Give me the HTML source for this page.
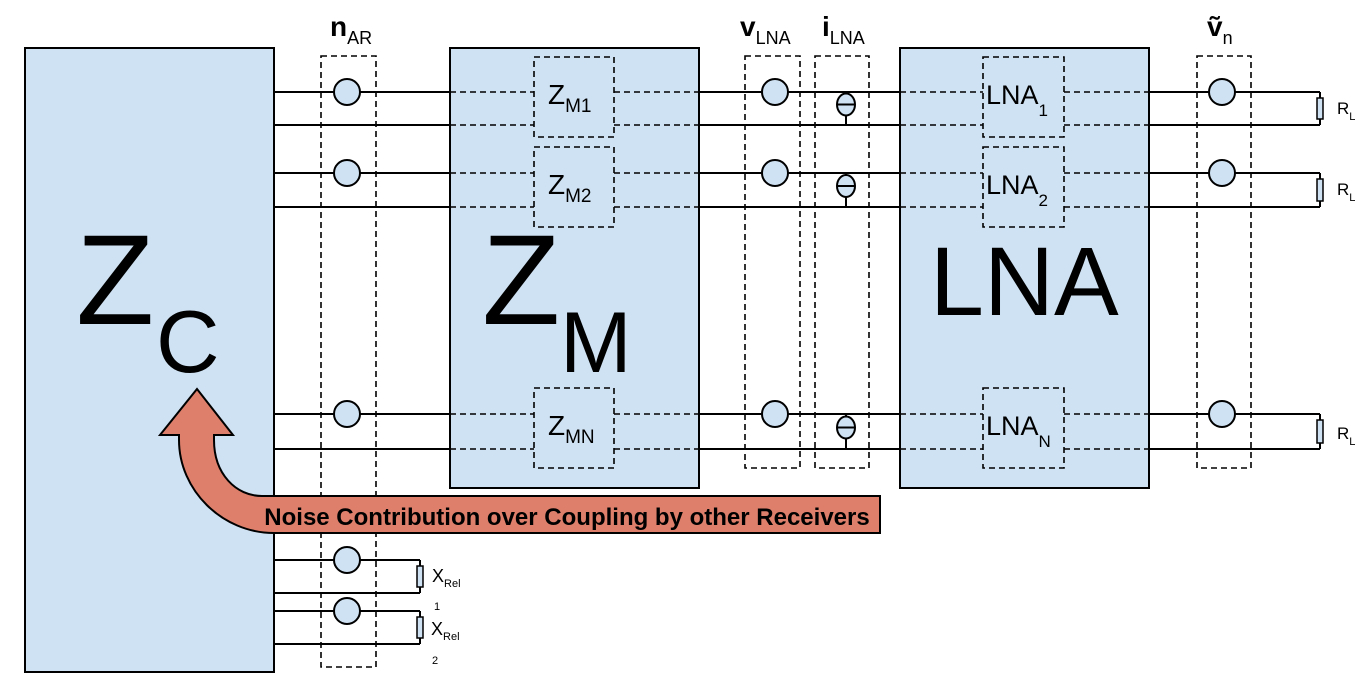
<!DOCTYPE html>
<html><head><meta charset="utf-8"><style>
html,body{margin:0;padding:0;background:#fff;}
svg{display:block;font-family:"Liberation Sans",Arial,sans-serif;}
</style></head><body>
<svg width="1365" height="684" viewBox="0 0 1365 684" xmlns="http://www.w3.org/2000/svg">
<rect x="25" y="48" width="249" height="624" fill="#cfe2f3" stroke="#000" stroke-width="2"/>
<rect x="450" y="48" width="249" height="440" fill="#cfe2f3" stroke="#000" stroke-width="2"/>
<rect x="900" y="48" width="249" height="440" fill="#cfe2f3" stroke="#000" stroke-width="2"/>
<g id="wires" stroke="#000" stroke-width="2" fill="none"></g>
<g stroke="#000" stroke-width="1.6" stroke-dasharray="6,4" fill="none">
  <rect x="321" y="56" width="55" height="611"/>
  <rect x="745" y="56" width="55" height="412"/>
  <rect x="815" y="56" width="54" height="412"/>
  <rect x="1197" y="56" width="54" height="412"/>
  <rect x="534" y="57" width="80" height="80"/>
  <rect x="534" y="147" width="80" height="80"/>
  <rect x="534" y="388" width="80" height="80"/>
  <rect x="983" y="57" width="81" height="80"/>
  <rect x="983" y="147" width="81" height="80"/>
  <rect x="983" y="388" width="81" height="80"/>
</g>
<g id="comps" stroke="#000" stroke-width="2" fill="#cfe2f3"></g>

<g fill="#000">
  <text x="76" y="324" font-size="128">Z</text>
  <text x="156" y="372" font-size="88">C</text>
  <text x="482" y="324" font-size="128">Z</text>
  <text x="560" y="372" font-size="86">M</text>
  <text x="930" y="315" font-size="97">LNA</text>
  <text x="548" y="104" font-size="28">Z<tspan font-size="19" dy="8">M1</tspan></text>
  <text x="548" y="194" font-size="28">Z<tspan font-size="19" dy="8">M2</tspan></text>
  <text x="548" y="435" font-size="28">Z<tspan font-size="19" dy="8">MN</tspan></text>
  <text x="986" y="104" font-size="27">LNA<tspan font-size="17" dy="12">1</tspan></text>
  <text x="986" y="194" font-size="27">LNA<tspan font-size="17" dy="12">2</tspan></text>
  <text x="986" y="435" font-size="27">LNA<tspan font-size="17" dy="12">N</tspan></text>
  <text x="330" y="36" font-size="28" font-weight="bold">n<tspan font-size="18" font-weight="normal" dy="8">AR</tspan></text>
  <text x="740" y="36" font-size="28" font-weight="bold">v<tspan font-size="18" font-weight="normal" dy="8">LNA</tspan></text>
  <text x="822" y="36" font-size="28" font-weight="bold">i<tspan font-size="18" font-weight="normal" dy="8">LNA</tspan></text>
  <text x="1207" y="36" font-size="28" font-weight="bold">ṽ<tspan font-size="18" font-weight="normal" dy="8">n</tspan></text>
  <text x="1337" y="114" font-size="17">R<tspan font-size="11" dy="6">L</tspan></text>
  <text x="1337" y="195" font-size="17">R<tspan font-size="11" dy="6">L</tspan></text>
  <text x="1337" y="439" font-size="17">R<tspan font-size="11" dy="6">L</tspan></text>
  <text x="432" y="582" font-size="18">X<tspan font-size="11" dy="5">Rel</tspan></text>
  <text x="434" y="610" font-size="11">1</text>
  <text x="431" y="635" font-size="18">X<tspan font-size="11" dy="5">Rel</tspan></text>
  <text x="432" y="664" font-size="11">2</text>
</g>

<path d="M880,496 L262,496 C236,496 214,474 214,440 L214,435 L233,435 L197,389 L160,435 L179,435 L179,440 C179,490 222,533 274,533 L880,533 Z" fill="#dd7f6b" stroke="#000" stroke-width="2"/>
<text x="567" y="525" font-size="24" font-weight="bold" text-anchor="middle" fill="#000">Noise Contribution over Coupling by other Receivers</text>

<script>
const pairYs = [[92,125],[173,207],[414,449]];
const ns = 'http://www.w3.org/2000/svg';
const wires = document.getElementById('wires');
const comps = document.getElementById('comps');
function line(x1,y1,x2,y2,dash){
  const l=document.createElementNS(ns,'line');
  l.setAttribute('x1',x1);l.setAttribute('y1',y1);l.setAttribute('x2',x2);l.setAttribute('y2',y2);
  if(dash){l.setAttribute('stroke-dasharray','6,4');l.setAttribute('stroke-width','1.6');}
  
  
  wires.appendChild(l);
}
function circ(cx,cy){
  const c=document.createElementNS(ns,'circle');
  c.setAttribute('cx',cx);c.setAttribute('cy',cy);c.setAttribute('r',13);
  
  
  comps.appendChild(c);
}
function res(x,y1,y2){
  const r=document.createElementNS(ns,'rect');
  r.setAttribute('x',x-3);r.setAttribute('y',y1);r.setAttribute('width',6);r.setAttribute('height',y2-y1);
  r.setAttribute('stroke-width','1.5');
  
  
  comps.appendChild(r);
}
pairYs.forEach(([a,b])=>{
  [a,b].forEach(y=>{
    line(274,y,450,y);line(450,y,534,y,true);line(614,y,699,y,true);
    line(699,y,900,y);line(900,y,983,y,true);line(1064,y,1149,y,true);line(1149,y,1320,y);
  });
  line(1320,a,1320,b);line(846,a,846,b);
  circ(347,a);circ(775,a);circ(1222,a);
  const e=document.createElementNS(ns,'ellipse');
  const my=(a+b)/2-4;
  e.setAttribute('cx',846);e.setAttribute('cy',my);e.setAttribute('rx',9);e.setAttribute('ry',11);
  
  
  comps.appendChild(e);
  const h=document.createElementNS(ns,'line');
  h.setAttribute('x1',837);h.setAttribute('x2',855);h.setAttribute('y1',my);h.setAttribute('y2',my);h.setAttribute('stroke','#000');
  
  
  comps.appendChild(h);
  res(1320,a+6,b-6);
});
[[560,593],[611,644]].forEach(([a,b])=>{
  line(274,a,420,a);line(274,b,420,b);line(420,a,420,b);
  circ(347,a);res(420,a+6,b-6);
});
</script>
</svg>
</body></html>
